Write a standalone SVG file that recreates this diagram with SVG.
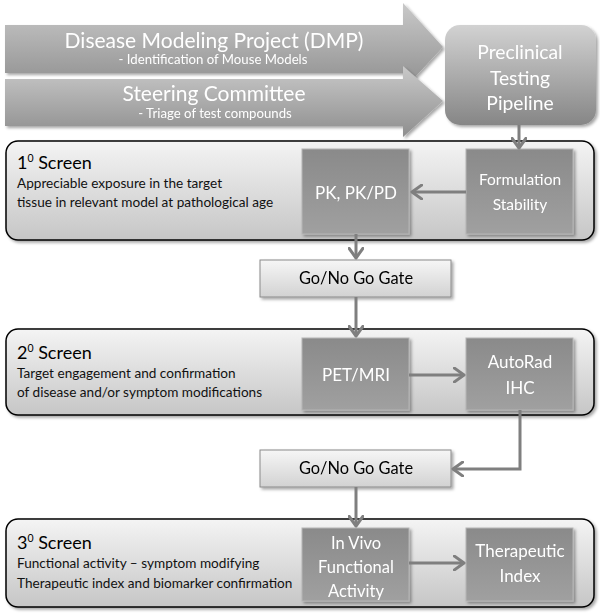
<svg xmlns="http://www.w3.org/2000/svg" width="600" height="615" viewBox="0 0 600 615">
<defs>
<linearGradient id="gArrow" x1="0" y1="0" x2="0" y2="1">
<stop offset="0" stop-color="#c9c9c9"/><stop offset="1" stop-color="#8e8e8e"/>
</linearGradient>
<linearGradient id="gPre" x1="0" y1="0" x2="0" y2="1">
<stop offset="0" stop-color="#d2d2d2"/><stop offset="1" stop-color="#868686"/>
</linearGradient>
<linearGradient id="gScreen" x1="0" y1="0" x2="0" y2="1">
<stop offset="0" stop-color="#f4f4f4"/><stop offset="1" stop-color="#c6c6c6"/>
</linearGradient>
<linearGradient id="gInner" x1="0" y1="0" x2="0" y2="1">
<stop offset="0" stop-color="#8a8a8a"/><stop offset="1" stop-color="#a0a0a0"/>
</linearGradient>
<linearGradient id="gGate" x1="0" y1="0" x2="0" y2="1">
<stop offset="0" stop-color="#f6f6f6"/><stop offset="1" stop-color="#d2d2d2"/>
</linearGradient>
<filter id="sh" x="-10%" y="-10%" width="130%" height="140%">
<feDropShadow dx="2" dy="2" stdDeviation="1.5" flood-color="#000" flood-opacity="0.35"/>
</filter>
<marker id="ah" viewBox="0 0 10 12" refX="8" refY="6" markerWidth="4.6" markerHeight="5.5" orient="auto" markerUnits="strokeWidth">
<path d="M1,1 L8,6 L1,11" fill="none" stroke="#7f7f7f" stroke-width="2.2" stroke-linecap="round" stroke-linejoin="round"/>
</marker>
<style>
text{font-family:Lato,"Open Sans","Liberation Sans",sans-serif}
.w{fill:#fff}
.big{font-size:21px}
.sm{font-size:13.2px}
.pre{font-size:19.3px}
.inner{font-size:17px;text-anchor:middle}
.inner2{font-size:15.5px;text-anchor:middle}
.inner3{font-size:16.5px;text-anchor:middle}
.title{font-size:18px;fill:#000}
.desc{font-size:13.6px;fill:#111}
.gt{font-size:16.4px;text-anchor:middle;fill:#000}
.screen{fill:url(#gScreen);stroke:#000;stroke-width:1.5}
.ib{fill:url(#gInner);stroke:#b5b5b5;stroke-width:1}
.gate{fill:url(#gGate);stroke:#8a8a8a;stroke-width:1}
.con{fill:none;stroke:#7f7f7f;stroke-width:3;marker-end:url(#ah)}
</style>
</defs>

<g id="arrow-dmp" filter="url(#sh)">
<path d="M5,25 L403,25 L403,3 L443,47 L403,90 L403,73 L5,73 Z" fill="url(#gArrow)"/>
<text class="w big" x="214" y="48" text-anchor="middle">Disease Modeling Project (DMP)</text>
<text class="w sm" x="213" y="64" text-anchor="middle">- Identification of Mouse Models</text>
</g>
<g id="arrow-steering" filter="url(#sh)">
<path d="M5,79 L403,79 L403,66 L443,101 L403,137 L403,126 L5,126 Z" fill="url(#gArrow)"/>
<text class="w big" x="214" y="101" text-anchor="middle">Steering Committee</text>
<text class="w sm" x="215" y="118" text-anchor="middle">- Triage of test compounds</text>
</g>
<g id="preclinical" filter="url(#sh)">
<rect x="445" y="25" width="151" height="100" rx="15" fill="url(#gPre)"/>
<text class="w pre" x="520" y="59" text-anchor="middle">Preclinical</text>
<text class="w pre" x="520" y="85" text-anchor="middle">Testing</text>
<text class="w pre" x="520" y="110" text-anchor="middle">Pipeline</text>
</g>

<g id="screen1">
<rect class="screen" x="6" y="141" width="588" height="99" rx="12" filter="url(#sh)"/>
<text class="title" x="17" y="169">1<tspan font-size="10.5" dy="-7">0</tspan><tspan dy="7"> Screen</tspan></text>
<text class="desc" x="17" y="188">Appreciable exposure in the target</text>
<text class="desc" x="17" y="207">tissue in relevant model at pathological age</text>
</g>
<g id="pk" filter="url(#sh)">
<rect class="ib" x="302" y="149" width="107" height="85"/>
<text class="w inner" x="356" y="199">PK, PK/PD</text>
</g>
<g id="formulation" filter="url(#sh)">
<rect class="ib" x="466" y="149" width="107" height="85"/>
<text class="w inner2" x="520" y="185">Formulation</text>
<text class="w inner2" x="520" y="210">Stability</text>
</g>
<g id="gate1" filter="url(#sh)">
<rect class="gate" x="260" y="260" width="191" height="37"/>
<text class="gt" x="356" y="284">Go/No Go Gate</text>
</g>

<g id="screen2">
<rect class="screen" x="6" y="329" width="588" height="86" rx="12" filter="url(#sh)"/>
<text class="title" x="17" y="359">2<tspan font-size="10.5" dy="-7">0</tspan><tspan dy="7"> Screen</tspan></text>
<text class="desc" x="17" y="378">Target engagement and confirmation</text>
<text class="desc" x="17" y="397">of disease and/or symptom modifications</text>
</g>
<g id="petmri" filter="url(#sh)">
<rect class="ib" x="302" y="338" width="107" height="72"/>
<text class="w inner" x="356" y="381">PET/MRI</text>
</g>
<g id="autorad" filter="url(#sh)">
<rect class="ib" x="466" y="338" width="107" height="72"/>
<text class="w inner" x="520" y="368">AutoRad</text>
<text class="w inner" x="520" y="394">IHC</text>
</g>
<g id="gate2" filter="url(#sh)">
<rect class="gate" x="260" y="450" width="191" height="37"/>
<text class="gt" x="356" y="474">Go/No Go Gate</text>
</g>

<g id="screen3">
<rect class="screen" x="6" y="519" width="588" height="88" rx="12" filter="url(#sh)"/>
<text class="title" x="17" y="549">3<tspan font-size="10.5" dy="-7">0</tspan><tspan dy="7"> Screen</tspan></text>
<text class="desc" x="17" y="568">Functional activity – symptom modifying</text>
<text class="desc" x="17" y="588">Therapeutic index and biomarker confirmation</text>
</g>
<g id="invivo" filter="url(#sh)">
<rect class="ib" x="302" y="528" width="107" height="73"/>
<text class="w inner3" x="356" y="549">In Vivo</text>
<text class="w inner3" x="356" y="573">Functional</text>
<text class="w inner3" x="356" y="597">Activity</text>
</g>
<g id="therapeutic" filter="url(#sh)">
<rect class="ib" x="466" y="528" width="107" height="73"/>
<text class="w inner" x="520" y="557">Therapeutic</text>
<text class="w inner" x="520" y="582">Index</text>
</g>

<g id="connectors">
<path class="con" d="M519,125 L519,148"/>
<path class="con" d="M466,192 L412,192"/>
<path class="con" d="M356,234 L356,258"/>
<path class="con" d="M356,297 L356,336"/>
<path class="con" d="M409,375 L464,375"/>
<path class="con" d="M520,410 L520,469 L453,469"/>
<path class="con" d="M356,487 L356,526"/>
<path class="con" d="M409,563 L464,563"/>
</g>
</svg>
